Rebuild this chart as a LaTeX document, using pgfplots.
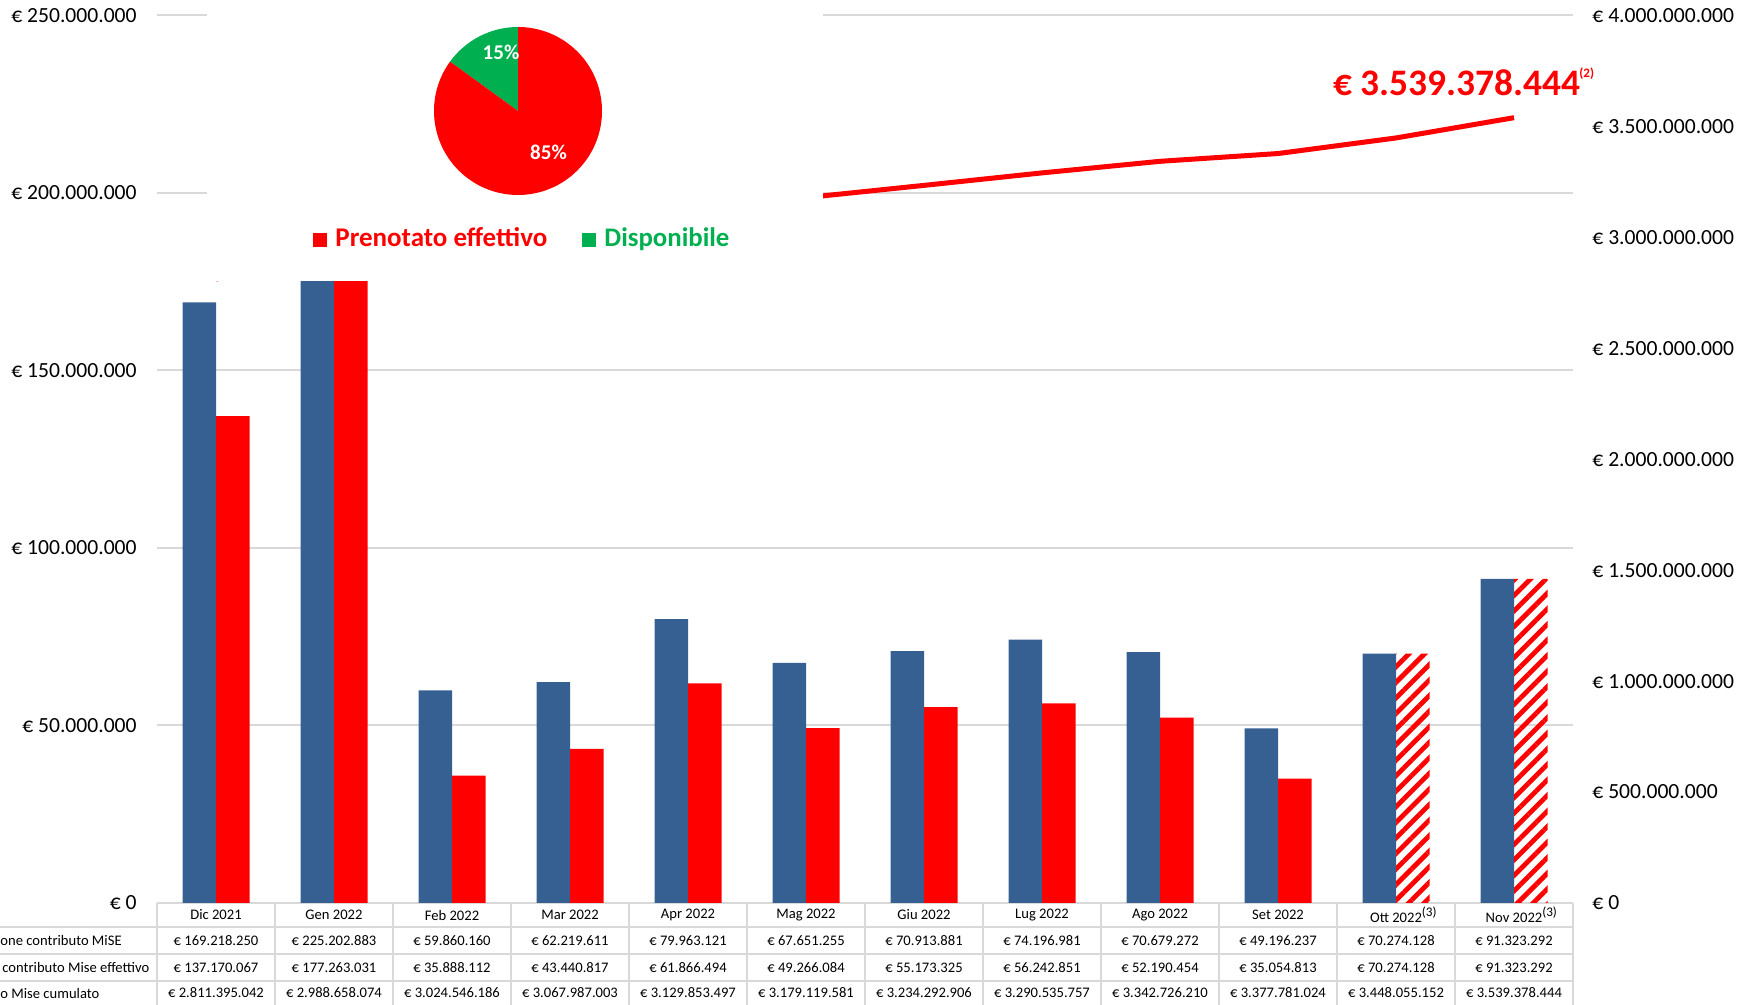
\documentclass[border=0pt]{standalone}
\usepackage{fontspec}
\setmainfont{Carlito}
\usepackage{pgfplots}
\pgfplotsset{compat=1.18}
\usetikzlibrary{patterns.meta}
\definecolor{barblue}{HTML}{376092}
\definecolor{gridgray}{HTML}{D9D9D9}
\definecolor{pgreen}{HTML}{00B050}
\newcommand\tfont{\fontsize{7.3}{9}\selectfont}
\newcommand\kfont{\fontsize{10.8}{13}\selectfont}
\newcommand\supthree{\rlap{\raisebox{3.2pt}{\fontsize{6.6}{7}\selectfont(3)}}}
\begin{document}
\begin{tikzpicture}[x=1pt,y=1pt]
\useasboundingbox (0,0) rectangle (869.5,502.5);
\clip (0,0) rectangle (869.5,502.5);
% ---------------- bars (left axis)
\begin{axis}[
  at={(78.5pt,51pt)}, anchor=south west, scale only axis,
  width=708pt, height=443.75pt,
  xmin=-0.5, xmax=11.5, ymin=0, ymax=250000000,
  ytick={0,50000000,100000000,150000000,200000000,250000000},
  yticklabels={€ 0,€ 50.000.000,€ 100.000.000,€ 150.000.000,€ 200.000.000,€ 250.000.000},
  xtick=\empty,
  ymajorgrids, grid style={gridgray, line width=1pt},
  axis x line*=bottom, axis y line*=left,
  x axis line style={gridgray, line width=1pt, -},
  y axis line style={draw=none},
  major tick length=0pt,
  scaled y ticks=false,
  yticklabel style={font=\kfont, anchor=east, inner sep=0pt, xshift=-10pt},
]
\addplot[ybar, bar width=16.75pt, bar shift=-8.375pt, fill=barblue, draw=none] coordinates {
 (0,169218250) (1,225202883) (2,59860160) (3,62219611) (4,79963121) (5,67651255)
 (6,70913881) (7,74196981) (8,70679272) (9,49196237) (10,70274128) (11,91323292)};
\addplot[ybar, bar width=16.75pt, bar shift=8.375pt, fill=red, draw=none] coordinates {
 (0,137170067) (1,177263031) (2,35888112) (3,43440817) (4,61866494) (5,49266084)
 (6,55173325) (7,56242851) (8,52190454) (9,35054813)};
\addplot[ybar, bar width=16.75pt, bar shift=8.375pt, draw=none,
  pattern={Lines[angle=45,distance=5.5pt,line width=2.4pt]}, pattern color=red] coordinates {
 (10,70274128) (11,91323292)};
\end{axis}
% ---------------- cumulative line (right axis)
\begin{axis}[
  at={(78.5pt,51pt)}, anchor=south west, scale only axis,
  width=708pt, height=443.75pt,
  xmin=-0.5, xmax=11.5, ymin=0, ymax=4000000000,
  axis y line*=right, axis x line=none,
  ytick={0,500000000,1000000000,1500000000,2000000000,2500000000,3000000000,3500000000,4000000000},
  yticklabels={€ 0,€ 500.000.000,€ 1.000.000.000,€ 1.500.000.000,€ 2.000.000.000,€ 2.500.000.000,€ 3.000.000.000,€ 3.500.000.000,€ 4.000.000.000},
  y axis line style={draw=none},
  major tick length=0pt,
  scaled y ticks=false,
  yticklabel style={font=\kfont, anchor=west, inner sep=0pt, xshift=9.5pt},
]
\addplot[red, line width=2.5pt, mark=none] coordinates {
 (0,2811395042) (1,2988658074) (2,3024546186) (3,3067987003) (4,3129853497) (5,3179119581)
 (6,3234292906) (7,3290535757) (8,3342726210) (9,3377781024) (10,3448055152) (11,3539378444)};
\end{axis}
% ---------------- white panel of the pie chart
\fill[white] (103.5,362) rectangle (411.5,503);
% ---------------- pie
\def\pieGreen{15}
\def\pieRed{85}
\fill[pgreen] (259,447) -- ++(90:42) arc[start angle=90, end angle={90+3.6*\pieGreen}, radius=42] -- cycle;
\fill[red] (259,447) -- ++({90+3.6*\pieGreen}:42) arc[start angle={90+3.6*\pieGreen}, end angle={90+3.6*\pieGreen+3.6*\pieRed}, radius=42] -- cycle;
\node[text=white, font=\bfseries\fontsize{10.5}{12}\selectfont, inner sep=0] at (250.5,476.25) {15\%};
\node[text=white, font=\bfseries\fontsize{10.5}{12}\selectfont, inner sep=0] at (274.25,426.25) {85\%};
% legend
\fill[red] (156.5,378.8) rectangle (163.3,385.8);
\node[anchor=base west, inner sep=0, text=red, font=\bfseries\fontsize{13.5}{15}\selectfont] at (167.5,379.2) {Prenotato effettivo};
\fill[pgreen] (291,378.8) rectangle (298.2,385.8);
\node[anchor=base west, inner sep=0, text=pgreen, font=\bfseries\fontsize{13.4}{15}\selectfont] at (302,379.2) {Disponibile};
% ---------------- total label
\node[anchor=base west, inner sep=0, text=red, font=\bfseries\fontsize{18.7}{22}\selectfont] at (666.5,454.5) {€ 3.539.378.444};
\node[anchor=base west, inner sep=0, text=red, font=\bfseries\fontsize{6.5}{8}\selectfont] at (789.5,463.5) {(2)};
% ---------------- data table
\foreach \yy in {39,25.5,12} \draw[gridgray, line width=1pt] (0,\yy) -- (786.5,\yy);
\foreach \k in {0,...,12} \draw[gridgray, line width=1pt] ({78.5+59*\k},51) -- ({78.5+59*\k},0);
\foreach \lab [count=\i from 0] in {Dic 2021,Gen 2022,Feb 2022,Mar 2022,Apr 2022,Mag 2022,Giu 2022,Lug 2022,Ago 2022,Set 2022,{Ott 2022\supthree},{Nov 2022\supthree}}
  \node[font=\tfont, inner sep=0] at ({108+59*\i},45) {\lab};
\foreach \lab [count=\i from 0] in {€ 169.218.250,€ 225.202.883,€ 59.860.160,€ 62.219.611,€ 79.963.121,€ 67.651.255,€ 70.913.881,€ 74.196.981,€ 70.679.272,€ 49.196.237,€ 70.274.128,€ 91.323.292}
  \node[font=\tfont, inner sep=0] at ({108+59*\i},32.25) {\lab};
\foreach \lab [count=\i from 0] in {€ 137.170.067,€ 177.263.031,€ 35.888.112,€ 43.440.817,€ 61.866.494,€ 49.266.084,€ 55.173.325,€ 56.242.851,€ 52.190.454,€ 35.054.813,€ 70.274.128,€ 91.323.292}
  \node[font=\tfont, inner sep=0] at ({108+59*\i},18.75) {\lab};
\foreach \lab [count=\i from 0] in {€ 2.811.395.042,€ 2.988.658.074,€ 3.024.546.186,€ 3.067.987.003,€ 3.129.853.497,€ 3.179.119.581,€ 3.234.292.906,€ 3.290.535.757,€ 3.342.726.210,€ 3.377.781.024,€ 3.448.055.152,€ 3.539.378.444}
  \node[font=\tfont, inner sep=0] at ({108+59*\i},6) {\lab};
\node[anchor=west, inner sep=0, font=\tfont] at (0,32.25) {one contributo MiSE};
\node[anchor=west, inner sep=0, font=\tfont] at (1,18.75) {contributo Mise effettivo};
\node[anchor=west, inner sep=0, font=\tfont] at (0,6) {o Mise cumulato};
\end{tikzpicture}
\end{document}
